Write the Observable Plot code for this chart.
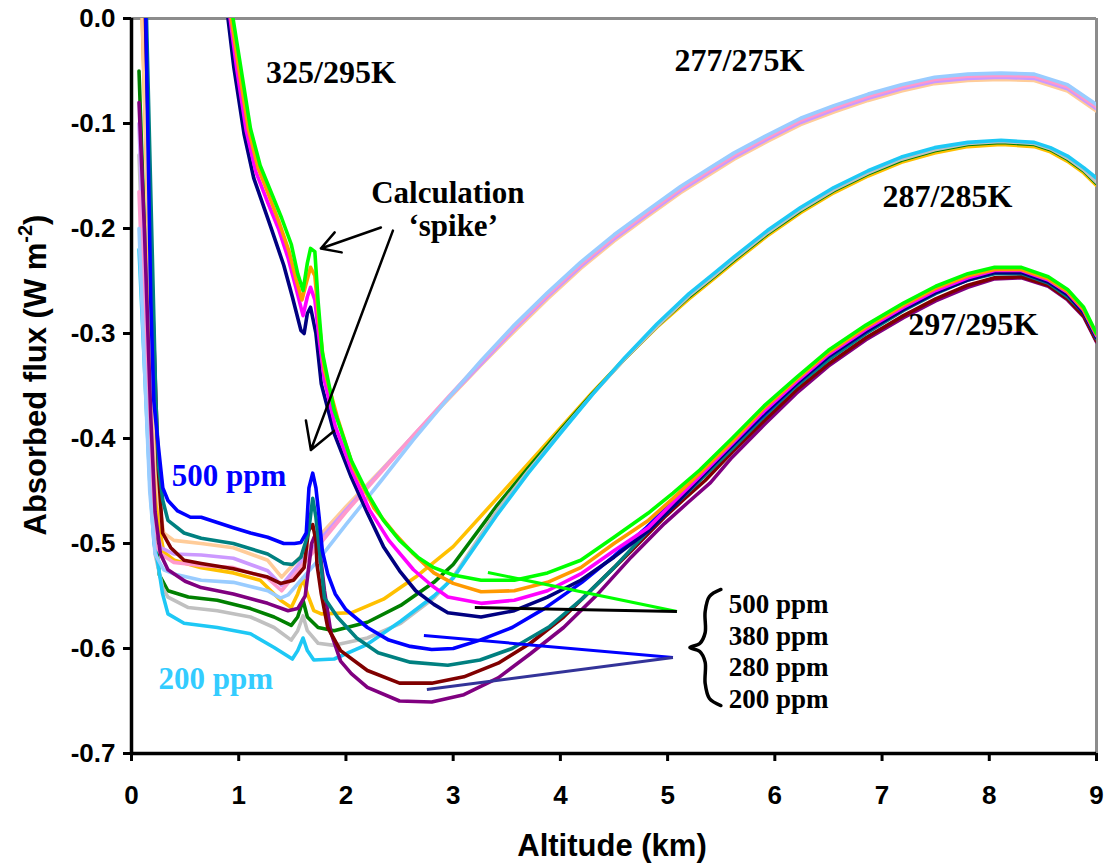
<!DOCTYPE html>
<html><head><meta charset="utf-8">
<script src="https://cdn.jsdelivr.net/npm/d3@7"></script>
<script src="https://cdn.jsdelivr.net/npm/@observablehq/plot@0.6"></script>
<style>body{margin:0;background:#fff}</style>
</head><body><div id="chart"></div>
<script>
// ---- tick values ----
const xTicks = [0, 1, 2, 3, 4, 5, 6, 7, 8, 9];
const yTicks = [0, -0.1, -0.2, -0.3, -0.4, -0.5, -0.6, -0.7];

// ---- series: [altitude km, absorbed flux W m-2] ----
// 297/295K group
const s297_500 = [[0.11,0.14],[0.134,0],[0.18,-0.27],[0.208,-0.364],[0.245,-0.402],[0.292,-0.447],[0.34,-0.459],[0.43,-0.469],[0.55,-0.475],[0.65,-0.475],[0.8,-0.48],[0.95,-0.485],[1.11,-0.49],[1.27,-0.494],[1.42,-0.5],[1.52,-0.5],[1.58,-0.499],[1.63,-0.49],[1.655,-0.447],[1.69,-0.433],[1.72,-0.447],[1.75,-0.475],[1.78,-0.507],[1.83,-0.529],[1.9,-0.548],[2.0,-0.563],[2.2,-0.58],[2.4,-0.592],[2.6,-0.598],[2.8,-0.601],[3.0,-0.6],[3.25,-0.592],[3.55,-0.58],[3.85,-0.562],[4.2,-0.537],[4.5,-0.512],[4.8,-0.485],[5.05,-0.46],[5.3,-0.437],[5.6,-0.407],[5.9,-0.377],[6.2,-0.348],[6.5,-0.322],[6.85,-0.298],[7.2,-0.276],[7.5,-0.26],[7.8,-0.247],[8.05,-0.241],[8.3,-0.241],[8.55,-0.25],[8.73,-0.262],[8.88,-0.278],[9.0,-0.303]];
const s297_380 = [[0.11,0.12],[0.14,0],[0.2,-0.25],[0.227,-0.364],[0.255,-0.428],[0.292,-0.459],[0.34,-0.478],[0.49,-0.49],[0.65,-0.495],[0.95,-0.5],[1.27,-0.51],[1.42,-0.519],[1.5,-0.52],[1.58,-0.513],[1.65,-0.49],[1.69,-0.457],[1.72,-0.475],[1.77,-0.523],[1.8,-0.552],[1.92,-0.57],[2.1,-0.59],[2.3,-0.604],[2.6,-0.613],[2.95,-0.616],[3.25,-0.611],[3.55,-0.6],[3.9,-0.579],[4.2,-0.553],[4.5,-0.523],[4.8,-0.49],[5.1,-0.46],[5.3,-0.44],[5.6,-0.41],[5.9,-0.379],[6.2,-0.35],[6.5,-0.325],[6.85,-0.3],[7.2,-0.278],[7.5,-0.262],[7.8,-0.249],[8.05,-0.243],[8.3,-0.243],[8.55,-0.252],[8.73,-0.265],[8.88,-0.28],[9.0,-0.305]];
const s297_280 = [[0.1,0.1],[0.13,0],[0.2,-0.28],[0.25,-0.43],[0.29,-0.49],[0.366,-0.504],[0.49,-0.516],[0.65,-0.519],[0.95,-0.524],[1.27,-0.532],[1.39,-0.538],[1.51,-0.535],[1.61,-0.523],[1.65,-0.488],[1.69,-0.482],[1.72,-0.497],[1.73,-0.52],[1.77,-0.548],[1.83,-0.58],[1.95,-0.602],[2.2,-0.621],[2.5,-0.633],[2.8,-0.633],[3.1,-0.627],[3.42,-0.614],[3.72,-0.595],[4.03,-0.57],[4.35,-0.538],[4.66,-0.507],[4.97,-0.475],[5.15,-0.458],[5.35,-0.44],[5.6,-0.413],[5.9,-0.383],[6.2,-0.354],[6.5,-0.329],[6.85,-0.304],[7.2,-0.283],[7.5,-0.267],[7.8,-0.254],[8.05,-0.247],[8.3,-0.246],[8.55,-0.254],[8.73,-0.267],[8.88,-0.283],[9.0,-0.307]];
const s297_200 = [[0.07,-0.08],[0.12,-0.2],[0.18,-0.38],[0.22,-0.47],[0.27,-0.51],[0.34,-0.525],[0.5,-0.536],[0.65,-0.542],[0.95,-0.548],[1.27,-0.557],[1.46,-0.564],[1.55,-0.562],[1.62,-0.55],[1.68,-0.5],[1.72,-0.49],[1.76,-0.51],[1.8,-0.545],[1.86,-0.585],[1.95,-0.612],[2.05,-0.624],[2.2,-0.637],[2.5,-0.65],[2.8,-0.651],[3.1,-0.644],[3.42,-0.628],[3.72,-0.605],[4.03,-0.58],[4.35,-0.548],[4.66,-0.513],[4.97,-0.481],[5.2,-0.46],[5.4,-0.442],[5.6,-0.418],[5.9,-0.387],[6.2,-0.357],[6.5,-0.331],[6.85,-0.306],[7.2,-0.285],[7.5,-0.269],[7.8,-0.256],[8.05,-0.248],[8.3,-0.247],[8.55,-0.255],[8.73,-0.268],[8.88,-0.284],[9.0,-0.308]];
// 325/295K group
const s325_500 = [[0.947,0],[1.02,-0.047],[1.11,-0.105],[1.2,-0.14],[1.3,-0.165],[1.4,-0.19],[1.49,-0.215],[1.55,-0.243],[1.6,-0.259],[1.64,-0.233],[1.67,-0.219],[1.71,-0.222],[1.74,-0.269],[1.78,-0.318],[1.89,-0.373],[2.05,-0.421],[2.2,-0.452],[2.35,-0.478],[2.5,-0.497],[2.67,-0.513],[2.82,-0.523],[3.0,-0.53],[3.26,-0.535],[3.57,-0.535],[3.88,-0.528],[4.19,-0.516],[4.5,-0.494],[4.82,-0.471],[5.05,-0.452],[5.3,-0.43],[5.6,-0.4],[5.9,-0.369],[6.2,-0.342],[6.5,-0.316],[6.85,-0.292],[7.2,-0.271],[7.5,-0.255],[7.8,-0.243],[8.05,-0.237],[8.3,-0.237],[8.55,-0.246],[8.73,-0.258],[8.88,-0.275],[9.0,-0.3]];
const s325_380 = [[0.93,0],[1.0,-0.047],[1.09,-0.105],[1.18,-0.142],[1.28,-0.168],[1.38,-0.195],[1.47,-0.222],[1.54,-0.25],[1.59,-0.268],[1.63,-0.252],[1.67,-0.237],[1.71,-0.245],[1.75,-0.29],[1.8,-0.335],[1.92,-0.38],[2.07,-0.428],[2.26,-0.466],[2.45,-0.49],[2.63,-0.51],[2.82,-0.528],[3.0,-0.538],[3.26,-0.546],[3.57,-0.545],[3.88,-0.537],[4.19,-0.523],[4.5,-0.5],[4.82,-0.478],[5.05,-0.457],[5.3,-0.433],[5.6,-0.403],[5.9,-0.371],[6.2,-0.344],[6.5,-0.318],[6.85,-0.294],[7.2,-0.273],[7.5,-0.257],[7.8,-0.245],[8.05,-0.239],[8.3,-0.239],[8.55,-0.248],[8.73,-0.26],[8.88,-0.277],[9.0,-0.301]];
const s325_280 = [[0.92,0],[0.98,-0.047],[1.07,-0.107],[1.16,-0.146],[1.27,-0.175],[1.37,-0.2],[1.46,-0.228],[1.53,-0.255],[1.6,-0.283],[1.64,-0.265],[1.67,-0.256],[1.71,-0.268],[1.75,-0.305],[1.8,-0.345],[1.9,-0.388],[2.06,-0.432],[2.22,-0.468],[2.4,-0.497],[2.63,-0.525],[2.8,-0.54],[2.95,-0.551],[3.26,-0.557],[3.57,-0.554],[3.88,-0.545],[4.19,-0.529],[4.5,-0.507],[4.82,-0.485],[5.06,-0.46],[5.3,-0.436],[5.6,-0.405],[5.9,-0.374],[6.2,-0.346],[6.5,-0.32],[6.85,-0.296],[7.2,-0.275],[7.5,-0.259],[7.8,-0.247],[8.05,-0.24],[8.3,-0.24],[8.55,-0.249],[8.73,-0.261],[8.88,-0.278],[9.0,-0.302]];
const s325_200 = [[0.9,0],[0.955,-0.047],[1.05,-0.11],[1.14,-0.152],[1.3,-0.199],[1.42,-0.235],[1.5,-0.265],[1.58,-0.297],[1.61,-0.3],[1.64,-0.281],[1.67,-0.275],[1.72,-0.3],[1.77,-0.348],[1.89,-0.395],[2.05,-0.437],[2.2,-0.471],[2.35,-0.503],[2.5,-0.526],[2.65,-0.545],[2.82,-0.558],[2.95,-0.566],[3.26,-0.57],[3.57,-0.564],[3.88,-0.551],[4.19,-0.535],[4.5,-0.513],[4.82,-0.488],[5.08,-0.462],[5.3,-0.438],[5.6,-0.407],[5.9,-0.376],[6.2,-0.348],[6.5,-0.322],[6.85,-0.298],[7.2,-0.277],[7.5,-0.261],[7.8,-0.249],[8.05,-0.242],[8.3,-0.242],[8.55,-0.251],[8.73,-0.263],[8.88,-0.28],[9.0,-0.304]];
// 287/285K group
const s287_500 = [[0.07,0.1],[0.1,0],[0.17,-0.25],[0.2,-0.4],[0.25,-0.48],[0.3,-0.508],[0.4,-0.516],[0.65,-0.523],[0.95,-0.528],[1.2,-0.535],[1.39,-0.554],[1.49,-0.561],[1.55,-0.548],[1.6,-0.533],[1.64,-0.548],[1.7,-0.564],[1.77,-0.567],[2.05,-0.566],[2.35,-0.553],[2.65,-0.532],[3.0,-0.503],[3.4,-0.458],[3.7,-0.424],[4.0,-0.39],[4.3,-0.356],[4.6,-0.324],[4.9,-0.294],[5.2,-0.267],[5.43,-0.248],[5.62,-0.232],[5.93,-0.207],[6.24,-0.185],[6.55,-0.166],[6.87,-0.15],[7.18,-0.137],[7.49,-0.128],[7.8,-0.122],[8.11,-0.12],[8.42,-0.122],[8.57,-0.127],[8.73,-0.136],[8.88,-0.147],[9.0,-0.159]];
const s287_380 = [[0.07,-0.05],[0.12,-0.2],[0.17,-0.38],[0.21,-0.48],[0.26,-0.53],[0.34,-0.545],[0.53,-0.551],[0.8,-0.554],[1.11,-0.562],[1.33,-0.57],[1.49,-0.578],[1.55,-0.57],[1.6,-0.554],[1.64,-0.57],[1.74,-0.58],[1.89,-0.583],[2.2,-0.575],[2.51,-0.559],[2.82,-0.537],[3.0,-0.52],[3.4,-0.465],[3.7,-0.428],[4.0,-0.392],[4.3,-0.357],[4.6,-0.324],[4.9,-0.293],[5.2,-0.265],[5.43,-0.246],[5.62,-0.23],[5.93,-0.205],[6.24,-0.183],[6.55,-0.164],[6.87,-0.148],[7.18,-0.135],[7.49,-0.126],[7.8,-0.12],[8.11,-0.118],[8.42,-0.12],[8.57,-0.125],[8.73,-0.134],[8.88,-0.145],[9.0,-0.157]];
const s287_280 = [[0.07,-0.13],[0.12,-0.27],[0.17,-0.42],[0.22,-0.51],[0.29,-0.542],[0.34,-0.551],[0.53,-0.561],[0.8,-0.564],[1.11,-0.57],[1.33,-0.58],[1.49,-0.592],[1.55,-0.583],[1.6,-0.569],[1.64,-0.583],[1.74,-0.595],[1.89,-0.597],[2.2,-0.59],[2.51,-0.576],[2.82,-0.552],[3.0,-0.532],[3.4,-0.47],[3.7,-0.431],[4.0,-0.394],[4.3,-0.358],[4.6,-0.324],[4.9,-0.293],[5.2,-0.264],[5.43,-0.245],[5.62,-0.229],[5.93,-0.204],[6.24,-0.182],[6.55,-0.163],[6.87,-0.147],[7.18,-0.134],[7.49,-0.125],[7.8,-0.119],[8.11,-0.117],[8.42,-0.119],[8.57,-0.124],[8.73,-0.133],[8.88,-0.144],[9.0,-0.156]];
const s287_200 = [[0.07,-0.22],[0.12,-0.33],[0.17,-0.44],[0.21,-0.5],[0.245,-0.518],[0.29,-0.548],[0.34,-0.567],[0.49,-0.576],[0.8,-0.58],[1.11,-0.586],[1.33,-0.599],[1.5,-0.61],[1.55,-0.602],[1.6,-0.59],[1.64,-0.602],[1.7,-0.611],[1.89,-0.61],[2.2,-0.596],[2.51,-0.574],[2.82,-0.55],[3.0,-0.533],[3.4,-0.474],[3.7,-0.433],[4.0,-0.395],[4.3,-0.358],[4.6,-0.323],[4.9,-0.291],[5.2,-0.262],[5.43,-0.243],[5.62,-0.227],[5.93,-0.202],[6.24,-0.18],[6.55,-0.161],[6.87,-0.145],[7.18,-0.132],[7.49,-0.123],[7.8,-0.118],[8.11,-0.116],[8.42,-0.118],[8.57,-0.123],[8.73,-0.131],[8.88,-0.142],[9.0,-0.152]];
// 277/275K group
const s277_500 = [[0.07,0.1],[0.1,0],[0.18,-0.269],[0.208,-0.395],[0.255,-0.459],[0.3,-0.49],[0.395,-0.497],[0.65,-0.5],[0.95,-0.504],[1.27,-0.516],[1.4,-0.532],[1.6,-0.51],[2.0,-0.465],[2.33,-0.43],[2.63,-0.397],[2.95,-0.363],[3.26,-0.33],[3.57,-0.298],[3.88,-0.267],[4.19,-0.238],[4.5,-0.212],[4.82,-0.188],[5.12,-0.166],[5.4,-0.148],[5.62,-0.134],[5.93,-0.117],[6.24,-0.101],[6.55,-0.089],[6.87,-0.078],[7.18,-0.069],[7.49,-0.062],[7.8,-0.059],[8.11,-0.058],[8.42,-0.059],[8.73,-0.069],[9.0,-0.088]];
const s277_380 = [[0.07,-0.1],[0.12,-0.25],[0.17,-0.4],[0.22,-0.48],[0.273,-0.504],[0.395,-0.51],[0.65,-0.511],[0.95,-0.514],[1.27,-0.526],[1.4,-0.54],[1.6,-0.515],[2.0,-0.468],[2.33,-0.431],[2.63,-0.397],[2.95,-0.362],[3.26,-0.329],[3.57,-0.296],[3.88,-0.265],[4.19,-0.236],[4.5,-0.21],[4.82,-0.186],[5.12,-0.164],[5.4,-0.146],[5.62,-0.132],[5.93,-0.115],[6.24,-0.099],[6.55,-0.087],[6.87,-0.076],[7.18,-0.067],[7.49,-0.06],[7.8,-0.057],[8.11,-0.056],[8.42,-0.057],[8.73,-0.067],[9.0,-0.086]];
const s277_280 = [[0.07,-0.165],[0.12,-0.3],[0.17,-0.43],[0.22,-0.5],[0.273,-0.51],[0.395,-0.518],[0.65,-0.521],[0.95,-0.523],[1.27,-0.533],[1.4,-0.545],[1.6,-0.52],[2.0,-0.47],[2.33,-0.432],[2.63,-0.397],[2.95,-0.361],[3.26,-0.327],[3.57,-0.294],[3.88,-0.263],[4.19,-0.234],[4.5,-0.208],[4.82,-0.184],[5.12,-0.162],[5.4,-0.144],[5.62,-0.13],[5.93,-0.113],[6.24,-0.097],[6.55,-0.085],[6.87,-0.074],[7.18,-0.065],[7.49,-0.058],[7.8,-0.055],[8.11,-0.054],[8.42,-0.055],[8.73,-0.065],[9.0,-0.084]];
const s277_200 = [[0.07,-0.2],[0.12,-0.33],[0.17,-0.45],[0.22,-0.51],[0.3,-0.525],[0.395,-0.529],[0.65,-0.535],[0.95,-0.537],[1.27,-0.545],[1.39,-0.552],[1.46,-0.549],[1.58,-0.535],[1.74,-0.516],[2.0,-0.482],[2.33,-0.44],[2.63,-0.401],[2.95,-0.362],[3.26,-0.326],[3.57,-0.292],[3.88,-0.261],[4.19,-0.232],[4.5,-0.206],[4.82,-0.182],[5.12,-0.16],[5.4,-0.142],[5.62,-0.128],[5.93,-0.111],[6.24,-0.095],[6.55,-0.083],[6.87,-0.072],[7.18,-0.063],[7.49,-0.056],[7.8,-0.053],[8.11,-0.052],[8.42,-0.053],[8.73,-0.063],[9.0,-0.082]];

// names, colours (drawing order)
const seriesNames = ["287/285K 500 ppm","287/285K 380 ppm","287/285K 280 ppm","287/285K 200 ppm",
  "277/275K 500 ppm","277/275K 380 ppm","277/275K 280 ppm","277/275K 200 ppm",
  "297/295K 200 ppm","297/295K 280 ppm","297/295K 380 ppm","297/295K 500 ppm",
  "325/295K 200 ppm","325/295K 280 ppm","325/295K 380 ppm","325/295K 500 ppm"];
const seriesData = [s287_500, s287_380, s287_280, s287_200,
  s277_500, s277_380, s277_280, s277_200,
  s297_200, s297_280, s297_380, s297_500,
  s325_200, s325_280, s325_380, s325_500];
const seriesColors = ["#FFC000","#008000","#C0C0C0","#1EC8F5",
  "#FFCC99","#CC99FF","#FF99CC","#99CCFF",
  "#800080","#800000","#008080","#0000FF",
  "#000080","#FF00FF","#FF9900","#00FF00"];

// annotation texts
const groupLabels = ["325/295K", "277/275K", "287/285K", "297/295K"];
const spikeLabels = ["Calculation", "\u2018spike\u2019"];
const ppmLabels = ["500 ppm", "380 ppm", "280 ppm", "200 ppm"];

const rows = seriesNames.flatMap((name, i) =>
  seriesData[i].map(([alt, flux]) => ({series: name, altitude: alt, flux})));

const serif = "'Liberation Serif', 'Times New Roman', serif";
const sans = "'Liberation Sans', Arial, sans-serif";

const groupPos = [[1.86,-0.0514],[5.67,-0.040],[7.61,-0.170],[7.85,-0.292]];
const ppmPosY = [-0.558,-0.588,-0.618,-0.648];

const plot = Plot.plot({
  width: 1104,
  height: 865,
  marginLeft: 131,
  marginRight: 8,
  marginTop: 18,
  marginBottom: 112,
  style: {fontFamily: sans, background: "#fff"},
  x: {domain: [0, 9]},
  y: {domain: [-0.7, 0]},
  color: {domain: seriesNames, range: seriesColors},
  marks: [
    // frame top/right (gray)
    Plot.ruleY([0], {stroke: "#8c8c8c", strokeWidth: 3}),
    Plot.ruleX([9], {stroke: "#8c8c8c", strokeWidth: 3}),
    Plot.line(rows, {x: "altitude", y: "flux", z: "series", stroke: "series",
      strokeWidth: 3.6, clip: true, strokeLinejoin: "round"}),
    // axes
    Plot.axisX({ticks: xTicks, tickSize: 8, tickPadding: 24, tickFormat: d => String(d),
      fontSize: 26, fontWeight: "bold", fontFamily: sans, strokeWidth: 3, label: null}),
    Plot.axisY({ticks: yTicks, tickSize: 8, tickPadding: 8, tickFormat: d => d === 0 ? "0.0" : d.toFixed(1),
      fontSize: 26, fontWeight: "bold", fontFamily: sans, strokeWidth: 3, label: null}),
    Plot.ruleX([0], {stroke: "black", strokeWidth: 3.5}),
    Plot.ruleY([-0.7], {stroke: "black", strokeWidth: 3.5}),
    // group labels
    Plot.text(groupLabels, {x: (d, i) => groupPos[i][0], y: (d, i) => groupPos[i][1], text: d => d,
      fontFamily: serif, fontWeight: "bold", fontSize: 32, fill: "black"}),
    // spike labels
    Plot.text(spikeLabels, {x: [2.95, 3.0], y: [-0.166, -0.198], text: d => d,
      fontFamily: serif, fontWeight: "bold", fontSize: 31, fill: "black"}),
    Plot.arrow([0, 1], {x1: [2.326, 2.438], y1: [-0.199, -0.202], x2: [1.766, 1.673], y2: [-0.219, -0.411],
      stroke: "black", strokeWidth: 2.5, headLength: 18, bend: 0}),
    // ppm labels on curves
    Plot.text(["500 ppm"], {x: [0.91], y: [-0.436], text: d => d, fontFamily: serif, fontWeight: "bold", fontSize: 31, fill: "#0000FF"}),
    Plot.text(["200 ppm"], {x: [0.786], y: [-0.629], text: d => d, fontFamily: serif, fontWeight: "bold", fontSize: 31, fill: "#33CCFF"}),
    // connector lines
    Plot.link([0, 1, 2, 3], {
      x1: [3.324, 3.202, 2.727, 2.755], y1: [-0.5276, -0.561, -0.5876, -0.639],
      x2: [5.087, 5.087, 5.05, 5.05], y2: [-0.5648, -0.5648, -0.6086, -0.6086],
      stroke: ["#00FF00", "#000000", "#0000FF", "#333399"], strokeWidth: 3}),
    // brace
    Plot.line([[5.497,-0.5438],[5.39,-0.5505],[5.35,-0.565],[5.35,-0.585],[5.30,-0.5952],[5.208,-0.599],[5.30,-0.6029],[5.35,-0.613],[5.35,-0.633],[5.39,-0.6476],[5.497,-0.6543]],
      {x: d => d[0], y: d => d[1], curve: "catmull-rom", stroke: "black", strokeWidth: 3.5}),
    // legend labels
    Plot.text(ppmLabels, {x: 5.57, y: (d, i) => ppmPosY[i], text: d => d, textAnchor: "start",
      fontFamily: serif, fontWeight: "bold", fontSize: 27, fill: "black"})
  ]
});

document.getElementById("chart").appendChild(plot);

// axis titles
const svg = d3.select(plot);
svg.append("text")
  .attr("x", 612).attr("y", 848)
  .attr("text-anchor", "middle").attr("dominant-baseline", "middle")
  .style("font-family", sans).style("font-weight", "bold").style("font-size", "31px")
  .text("Altitude (km)");
const yt = svg.append("text")
  .attr("transform", "translate(38,375) rotate(-90)")
  .attr("text-anchor", "middle").attr("dominant-baseline", "middle")
  .style("font-family", sans).style("font-weight", "bold").style("font-size", "31px");
yt.append("tspan").text("Absorbed flux (W m");
yt.append("tspan").attr("dy", -11).style("font-size", "20px").text("-2");
yt.append("tspan").attr("dy", 11).text(")");
</script>
</body></html>
